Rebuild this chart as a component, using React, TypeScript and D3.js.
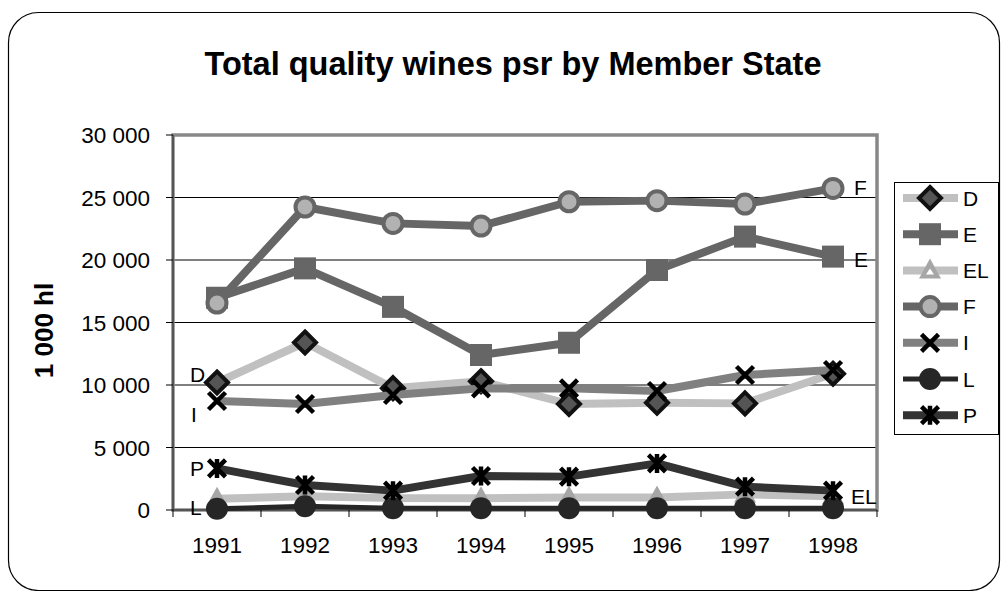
import React from "react";
import * as d3 from "d3";

const years = ["1991", "1992", "1993", "1994", "1995", "1996", "1997", "1998"];
const seriesNames = ["D", "E", "EL", "F", "I", "L", "P"];
const D = [10200, 13400, 9750, 10300, 8480, 8580, 8530, 10900];
const E = [16980, 19330, 16250, 12400, 13380, 19200, 21870, 20270];
const EL = [900, 1100, 950, 950, 1000, 1000, 1250, 1100];
const F = [16560, 24240, 22930, 22720, 24660, 24750, 24480, 25730];
const I = [8720, 8480, 9200, 9730, 9730, 9520, 10800, 11200];
const L = [100, 300, 150, 150, 150, 150, 150, 150];
const P = [3330, 2000, 1550, 2720, 2670, 3730, 1870, 1550];
const yTicks = [0, 5000, 10000, 15000, 20000, 25000, 30000];

const seriesValues: Record<string, number[]> = { D, E, EL, F, I, L, P };

type Style = { line: string; width: number; marker: string };
const styles: Record<string, Style> = {
  D: { line: "#c0c0c0", width: 8, marker: "diamond" },
  E: { line: "#666666", width: 8, marker: "square" },
  EL: { line: "#c0c0c0", width: 8, marker: "triangle" },
  F: { line: "#666666", width: 8, marker: "circleRing" },
  I: { line: "#808080", width: 8, marker: "x" },
  L: { line: "#262626", width: 5, marker: "dot" },
  P: { line: "#333333", width: 8, marker: "star" },
};

// label placement: which end, offsets relative to point
const pointLabels = [
  { s: "F", end: "last", dx: 21, dy: -1 },
  { s: "E", end: "last", dx: 21, dy: 3 },
  { s: "EL", end: "last", dx: 18, dy: 0 },
  { s: "D", end: "first", dx: -27, dy: -8 },
  { s: "I", end: "first", dx: -26, dy: 13 },
  { s: "P", end: "first", dx: -27, dy: 0 },
  { s: "L", end: "first", dx: -27, dy: -1 },
];

const FONT = "'Liberation Sans', Arial, Helvetica, sans-serif";

function Marker({ type, x, y, legend }: { type: string; x: number; y: number; legend?: boolean }) {
  switch (type) {
    case "diamond": {
      const r = 11;
      return (
        <path
          d={`M${x},${y - r}L${x + r},${y}L${x},${y + r}L${x - r},${y}Z`}
          fill="#555555"
          stroke="#111111"
          strokeWidth={4}
        />
      );
    }
    case "square":
      return <rect x={x - 11} y={y - 11} width={22} height={22} fill="#666666" />;
    case "triangle":
      return (
        <g>
          <path d={`M${x},${y - 12}L${x + 11},${y + 8}L${x - 11},${y + 8}Z`} fill="#a6a6a6" />
          {legend && <path d={`M${x},${y - 2}L${x + 4},${y + 4}L${x - 4},${y + 4}Z`} fill="#ffffff" />}
        </g>
      );
    case "circleRing":
      return <circle cx={x} cy={y} r={9.5} fill="#b2b2b2" stroke="#666666" strokeWidth={4} />;
    case "x": {
      const r = 8.5;
      return (
        <path
          d={`M${x - r},${y - r}L${x + r},${y + r}M${x - r},${y + r}L${x + r},${y - r}`}
          stroke="#000000"
          strokeWidth={4.5}
        />
      );
    }
    case "dot":
      return <circle cx={x} cy={y} r={11} fill="#262626" />;
    case "star": {
      const r = 8.5;
      return (
        <path
          d={`M${x - r},${y - r}L${x + r},${y + r}M${x - r},${y + r}L${x + r},${y - r}M${x},${y - r - 1}L${x},${y + r + 1}`}
          stroke="#000000"
          strokeWidth={4.5}
        />
      );
    }
  }
  return null;
}

export default function App() {
  const W = 1002;
  const H = 591;
  const plot = { left: 173, top: 135, right: 877, bottom: 510 };

  const x = d3.scaleBand<string>().domain(years).range([plot.left, plot.right]).padding(0);
  const xc = (yr: string) => (x(yr) as number) + x.bandwidth() / 2;
  const y = d3.scaleLinear().domain([0, 30000]).range([plot.bottom, plot.top]);

  const fmt = (v: number) => d3.format(",")(v).replace(/,/g, " ");

  const legendX = 894;
  const legendTop = 182;
  const legendStep = 36.2;

  return (
    <svg
      width={W}
      height={H}
      style={{ position: "absolute", left: 0, top: 0, background: "#ffffff" }}
      fontFamily={FONT}
    >
      <rect x={0} y={0} width={W} height={H} fill="#ffffff" />
      <rect x={8.5} y={12.5} width={991} height={578} rx={30} ry={30} fill="none" stroke="#000" strokeWidth={1.2} />

      <text x={513} y={75} textAnchor="middle" fontSize={32.5} fontWeight="bold" fill="#000">
        Total quality wines psr by Member State
      </text>

      <text
        transform={`translate(53,${(plot.top + plot.bottom) / 2 + 8}) rotate(-90)`}
        textAnchor="middle"
        fontSize={26}
        fontWeight="bold"
        fill="#000"
      >
        1 000 hl
      </text>

      {/* gridlines */}
      {yTicks.slice(1).map((t) => (
        <line key={t} x1={plot.left} x2={plot.right} y1={y(t)} y2={y(t)} stroke="#000" strokeWidth={1} />
      ))}

      {/* frame */}
      <rect
        x={plot.left}
        y={plot.top}
        width={plot.right - plot.left}
        height={plot.bottom - plot.top}
        fill="none"
        stroke="#888888"
        strokeWidth={3.5}
      />
      <line x1={plot.left} x2={plot.left} y1={plot.top} y2={plot.bottom} stroke="#222" strokeWidth={1} />
      <line x1={plot.left} x2={plot.right} y1={plot.bottom} y2={plot.bottom} stroke="#222" strokeWidth={1} />

      {/* y ticks */}
      {yTicks.map((t) => (
        <g key={t}>
          <line x1={plot.left - 7} x2={plot.left} y1={y(t)} y2={y(t)} stroke="#000" strokeWidth={1} />
          <text x={150} y={y(t)} dy="0.36em" textAnchor="end" fontSize={22.5} fill="#000">
            {fmt(t)}
          </text>
        </g>
      ))}

      {/* x ticks */}
      {years.concat(["end"]).map((yr, i) => {
        const xx = plot.left + i * x.bandwidth();
        return <line key={yr} x1={xx} x2={xx} y1={plot.bottom} y2={plot.bottom + 7} stroke="#000" strokeWidth={1} />;
      })}
      {years.map((yr) => (
        <text key={yr} x={xc(yr)} y={553} textAnchor="middle" fontSize={22.5} fill="#000">
          {yr}
        </text>
      ))}

      {/* series */}
      {seriesNames.map((s) => {
        const vals = seriesValues[s];
        const st = styles[s];
        const line = d3
          .line<number>()
          .x((_, i) => xc(years[i]))
          .y((v) => y(v));
        return (
          <g key={s}>
            <path d={line(vals) as string} fill="none" stroke={st.line} strokeWidth={st.width} strokeLinejoin="round" />
            {vals.map((v, i) => (
              <Marker key={i} type={st.marker} x={xc(years[i])} y={y(v)} />
            ))}
          </g>
        );
      })}

      {/* point labels */}
      {pointLabels.map((lb) => {
        const vals = seriesValues[lb.s];
        const idx = lb.end === "last" ? vals.length - 1 : 0;
        return (
          <text
            key={lb.s}
            x={xc(years[idx]) + lb.dx}
            y={y(vals[idx]) + lb.dy}
            dy="0.36em"
            fontSize={21}
            fill="#000"
          >
            {lb.s}
          </text>
        );
      })}

      {/* legend */}
      <rect x={legendX + 0.5} y={legendTop + 0.5} width={104} height={252} fill="#fff" stroke="#000" strokeWidth={1} />
      {seriesNames.map((s, i) => {
        const cy = legendTop + 16 + i * legendStep;
        const st = styles[s];
        return (
          <g key={s}>
            <line x1={903} x2={958} y1={cy} y2={cy} stroke={st.line} strokeWidth={st.width} />
            <Marker type={st.marker} x={930} y={cy} legend />
            <text x={963} y={cy} dy="0.36em" fontSize={21} fill="#000">
              {s}
            </text>
          </g>
        );
      })}
    </svg>
  );
}
